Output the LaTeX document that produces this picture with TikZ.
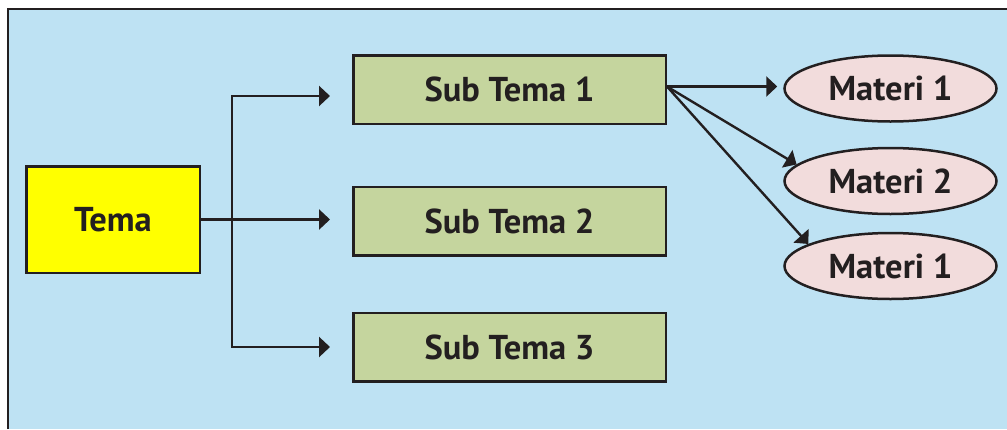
\documentclass[tikz,border=0pt]{standalone}
\usepackage{fontspec}
\setmainfont{PT Sans}
\usetikzlibrary{shapes,arrows.meta}

\definecolor{bgblue}{RGB}{190,226,243}
\definecolor{darkline}{RGB}{35,31,32}
\definecolor{temayellow}{RGB}{255,255,0}
\definecolor{subgreen}{RGB}{197,213,158}
\definecolor{materipink}{RGB}{242,220,220}

\begin{document}
\begin{tikzpicture}[x=1pt, y=-1pt,
      every node/.style={font=\fontsize{34.5}{40}\selectfont\bfseries, text=darkline},
      block_tema/.style ={rectangle, draw=darkline, line width=2.5pt, fill=temayellow,
        minimum width=173.5pt, minimum height=106.5pt},
      block_sub/.style ={rectangle, draw=darkline, line width=2.5pt, fill=subgreen,
        minimum width=312.5pt, minimum height=68.5pt},
      block_materi/.style ={ellipse, draw=darkline, line width=2.5pt, fill=materipink,
        inner sep=1pt, minimum width=212pt, minimum height=66pt},
      line/.style ={draw=darkline, line width=2.4pt, -{Triangle[length=11pt,width=20pt]}}]
    \useasboundingbox (0,0) rectangle (1007,429);
    %
    % 1. background frame
    \fill[bgblue] (8,9) rectangle (1007,429);
    \draw[darkline, line width=2.5pt] (8,429) -- (8,9) -- (1007,9);
    %
    % 2. placing the nodes
    % tema - column 1
    \node [block_tema] (tema) at (113,219.5) {Tema};
    % sub tema - column 2
    \node [block_sub] (sub1) at (509.5,89.5) {Sub Tema 1};
    \node [block_sub] (sub2) at (509.5,221) {Sub Tema 2};
    \node [block_sub] (sub3) at (509.5,347) {Sub Tema 3};
    % materi - column 3
    \node [block_materi] (mat1) at (890.5,88.5) {Materi 1};
    \node [block_materi] (mat2) at (890.5,181) {Materi 2};
    \node [block_materi] (mat3) at (890.5,266) {Materi 1};
    %
    % 3. connecting nodes with paths
    \coordinate (split) at ([xshift=31pt]tema.east);
    \coordinate (fan) at ([yshift=3pt]sub1.east);
    \begin{scope}[every path/.style=line]
      % paths from tema to sub tema
      \path[shorten >=22pt] (tema.east) -- (tema.east -| sub2.west);
      \path[shorten >=22pt] (split) |- ([yshift=-6.5pt]sub1.west);
      \path[shorten >=22pt] (split) |- (sub3.west);
      %
      % paths from sub tema 1 to materi
      \path[shorten >=6pt] (fan) -- (fan -| mat1.west);
      \path (fan) -- (mat2.170);
      \path (fan) -- (mat3.165);
    \end{scope}
\end{tikzpicture}
\end{document}
